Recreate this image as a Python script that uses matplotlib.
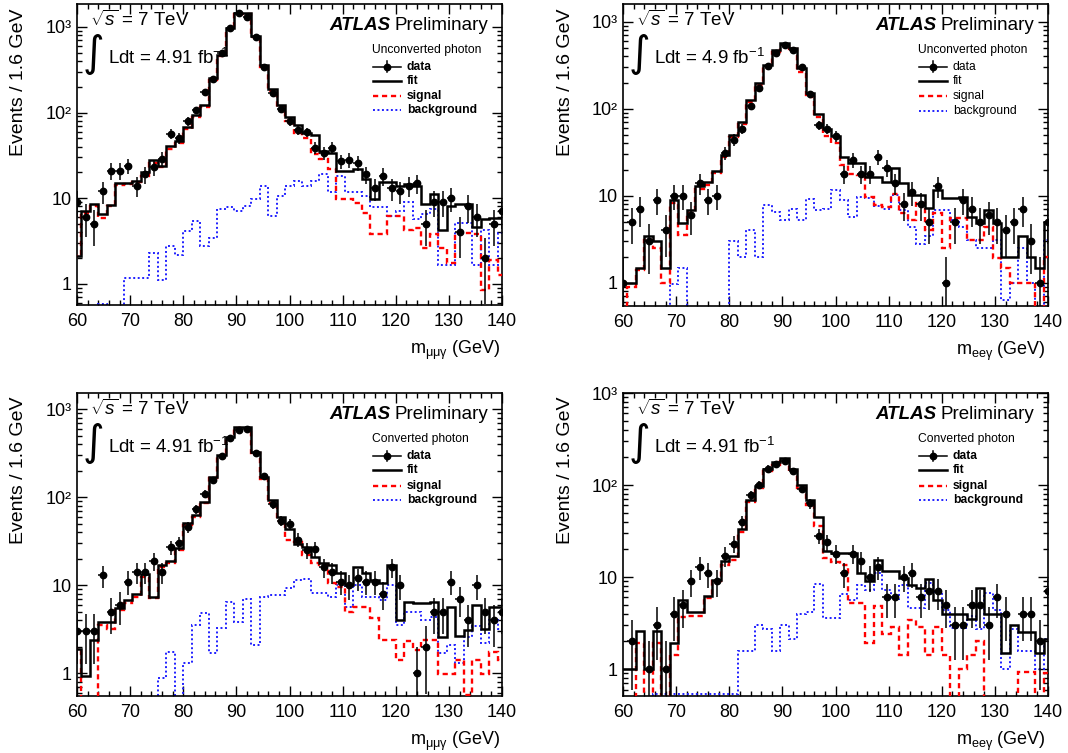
import numpy as np
import matplotlib
matplotlib.use("Agg")
import matplotlib.pyplot as plt
from matplotlib.ticker import FixedLocator, NullFormatter, LogLocator, MultipleLocator
from matplotlib.lines import Line2D

plt.rcParams['font.family'] = ['Liberation Sans', 'DejaVu Sans']
plt.rcParams['mathtext.fontset'] = 'custom'
plt.rcParams['mathtext.rm'] = 'Liberation Sans'
plt.rcParams['mathtext.it'] = 'Liberation Sans:italic'
plt.rcParams['mathtext.bf'] = 'Liberation Sans:bold'

# ---------------- binning / ticks ----------------
bin_lo, bin_w, n_bins = 59.2, 1.6, 51
edges = bin_lo + bin_w * np.arange(n_bins + 1)
centers = edges[:-1] + bin_w / 2
x_ticks = [60, 70, 80, 90, 100, 110, 120, 130, 140]
y_ticks = [1, 10, 100, 1000]
y_tick_labels = ['1', '10', '10\u00b2', '10\u00b3']

# ---------------- Z -> mu mu gamma, unconverted ----------------
data_mmg_unconv = [9, 6, 5, 12, 21, 21, 24, 14, 19, 23, 29, 56, 50, 79, 106, 175, 244, 494, 973, 1462,
                   1312, 756, 344, 170, 109, 79, 62, 59, 39, 34, 39, 27, 28, 26, 19, 13, 18, 13, 12, 14,
                   15, 5, 9, 9, 10, 4, 8, 6, 2, 5, 7]
fit_mmg_unconv = [2.1, 7.1, 8.5, 6.5, 8.3, 14.9, 14.9, 16, 20, 28, 24, 41, 47, 68, 93, 122, 251, 464, 973, 1462,
                  1435, 777, 360, 188, 124, 89, 71, 57, 54, 36, 34, 21, 21, 22, 16.7, 9.9, 15.6, 15.6, 14, 14.6,
                  14, 8.5, 11.1, 4.3, 8.1, 8.5, 8.5, 4.6, 5.7, 5.9, 5.9]
sig_mmg_unconv = [2.1, 6.8, 8.1, 5.9, 8.0, 14.2, 14.6, 15.3, 18.3, 26, 23, 38, 44, 64, 89, 117, 240, 452, 947, 1422,
                  1397, 755, 344, 178, 117, 79, 57, 50, 33, 29, 22, 9.9, 9.9, 8.7, 6.8, 3.8, 3.8, 6.2, 6.2, 4.3,
                  4.5, 2.6, 3.8, 2.6, 1.75, 3.9, 3.9, 3.8, 0.85, 1.9, 1.28]
bkg_mmg_unconv = [0.1, 0.1, 0.1, 0.58, 0.3, 0.3, 1.17, 1.17, 1.17, 2.3, 1.1, 2.8, 2.2, 4.1, 5.4, 2.75, 3.4, 7.4, 7.8, 7.1,
                  8.1, 9.7, 13.7, 6.2, 10.6, 14, 16, 14, 16, 19, 11.9, 18.3, 11.9, 11.9, 10.6, 7.8, 7.8, 6.2, 7.1, 9.1,
                  5.7, 6.5, 7.4, 1.67, 1.67, 5.2, 5.2, 1.67, 4.3, 1.67, 3.9]

# ---------------- Z -> e e gamma, unconverted ----------------
data_eeg_unconv = [1, 5, 7, 3, 9, 4, 10, 10, 6, 14, 9, 10, 31, 44, 59, 107, 171, 309, 440, 540,
                   472, 299, 147, 65, 59, 48, 18, 26, 18, 18, 28, 21, 14, 8, 11, 8, 5, 13, 1, 5,
                   9, 7, 5, 6, 5, 4, 5, 7, 3, 1, 5]
fit_eeg_unconv = [1.0, 1.0, 1.49, 3.4, 3.0, 1.46, 8.9, 4.9, 6.8, 12.9, 14.5, 19.4, 29.3, 50, 71, 126, 196, 318, 472, 563,
                  494, 291, 150, 88, 59, 48, 28, 24, 24, 16.5, 16.5, 14.5, 20.6, 14.1, 10.2, 10.2, 7.2, 11.6, 9.3, 9.3,
                  9.7, 5.7, 4.8, 6.8, 4.8, 1.96, 1.96, 3.4, 1.96, 1.46, 5.0]
sig_eeg_unconv = [0.4, 0.9, 1.4, 3.1, 2.5, 0.99, 8.2, 3.5, 6.3, 12.1, 13.2, 18.1, 28, 47, 67, 120, 187, 303, 451, 540,
                  480, 265, 137, 81, 48, 40, 22.5, 18, 17.3, 9.7, 7.8, 7.5, 10.6, 6.3, 5.25, 8.2, 4.0, 6.3, 2.5, 5.5,
                  5.5, 3.1, 3.1, 4.4, 1.9, 1.46, 0.99, 0.99, 0.99, 0.3, 2.0]
bkg_eeg_unconv = [0.1, 0.1, 0.1, 0.1, 0.1, 0.1, 0.97, 1.46, 0.1, 0.1, 0.1, 0.1, 0.1, 3.0, 1.96, 4.0, 2.0, 7.8, 6.5, 5.2,
                  7.1, 5.2, 9.1, 6.8, 7.1, 11.6, 8.9, 5.7, 9.7, 9.3, 7.6, 7.0, 10.2, 6.8, 4.4, 2.8, 3.4, 6.8, 6.8, 5.2,
                  4.4, 3.1, 2.5, 2.5, 3.1, 0.63, 0.98, 2.5, 0.98, 0.3, 3.1]

# ---------------- Z -> mu mu gamma, converted ----------------
data_mmg_conv = [3, 3, 3, 13, 5, 6, 11, 14, 14, 19, 14, 27, 30, 46, 73, 109, 157, 295, 468, 582,
                 593, 316, 175, 83, 54, 49, 33, 25, 26, 16, 14, 11, 10, 12, 11, 11, 8, 16, 10, 0,
                 1, 2, 5, 5, 11, 7, 4, 10, 5, 4, 5]
fit_mmg_conv = [1.9, 0.92, 2.4, 3.8, 3.8, 5.5, 6.7, 7.9, 13.3, 7.4, 17, 18.6, 26.3, 51, 63, 89, 169, 303, 481, 624,
                624, 330, 169, 93, 60, 43, 29.5, 27.5, 21, 17.8, 17, 13.9, 10.1, 16.3, 13.9, 11.5, 10.5, 17, 4.0, 6.5,
                6.2, 6.2, 6.5, 2.6, 5.7, 2.65, 3.1, 6.0, 3.2, 5.7, 5.7]
sig_mmg_conv = [1.9, 0.3, 0.3, 3.5, 3.2, 5.2, 6.2, 7.4, 12.5, 7.1, 16.3, 17.8, 25, 48, 60, 85, 164, 290, 468, 608,
                608, 316, 160, 85, 53, 33, 31, 22, 17.8, 17, 10.5, 9.5, 4.9, 5.7, 5.7, 4.2, 2.4, 2.4, 1.4, 2.35,
                1.84, 2.4, 2.4, 0.98, 0.98, 1.4, 0.57, 1.4, 0.98, 1.76, 1.4]
bkg_mmg_conv = [0.1, 0.1, 0.1, 0.1, 0.1, 0.1, 0.1, 0.1, 0.1, 0.1, 0.88, 1.76, 0.3, 1.3, 3.5, 4.8, 1.69, 3.3, 6.5, 3.8,
                6.9, 2.1, 7.4, 7.8, 7.8, 9.2, 11.5, 11.9, 8.1, 8.1, 7.4, 10.1, 5.7, 10.1, 7.4, 7.4, 6.8, 10.1, 3.5, 4.9,
                4.9, 4.0, 4.4, 1.69, 2.1, 1.3, 2.6, 3.4, 2.2, 4.0, 3.2]

# ---------------- Z -> e e gamma, converted ----------------
data_eeg_conv = [0, 2, 0, 1, 3, 1, 4, 5, 9, 13, 11, 9, 17, 23, 40, 77, 101, 151, 171, 184,
                 143, 91, 63, 28, 24, 18, 11, 18, 15, 10, 13, 6, 6, 10, 11, 6, 7, 7, 5, 3,
                 3, 5, 5, 3, 6, 4, 0, 4, 4, 2, 7]
fit_eeg_conv = [1.0, 1.0, 2.6, 1.0, 2.6, 0.3, 1.9, 5.7, 4.2, 4.2, 6.2, 9.4, 14.8, 16.8, 33, 68, 97, 149, 176, 197,
                149, 101, 69, 45, 19, 18.2, 18.2, 18.2, 11, 9, 15.4, 11.5, 11.5, 9.8, 8.3, 7.6, 9.5, 5.7, 4.0, 4.0,
                4.0, 3.5, 7.6, 4.0, 4.0, 1.5, 3.0, 2.5, 2.5, 1.5, 2.1]
sig_eeg_conv = [0.3, 0.3, 1.9, 0.3, 1.9, 0.3, 1.43, 3.7, 3.8, 3.8, 5.9, 9.0, 13.6, 15.4, 31, 65, 93, 141, 166, 181,
                141, 93, 61, 36, 16, 14.4, 13.6, 5.2, 5.2, 1.9, 4.8, 2.4, 2.9, 1.43, 3.4, 2.9, 1.43, 2.9, 1.43, 0.3,
                0.99, 1.43, 2.0, 0.3, 0.3, 0.3, 0.3, 0.94, 0.94, 0.3, 0.9]
bkg_eeg_conv = [0.1, 0.1, 0.1, 0.1, 0.53, 0.53, 0.53, 0.53, 0.53, 0.53, 0.53, 0.53, 0.53, 0.53, 1.56, 1.56, 3.0, 2.7, 1.56, 3.0,
                2.1, 4.0, 4.2, 8.5, 3.6, 3.6, 6.6, 5.6, 8.3, 7.3, 11.2, 7.3, 5.8, 8.3, 4.6, 4.6, 8.6, 6.8, 4.4, 2.8,
                2.8, 3.8, 2.7, 6.7, 4.4, 1.0, 2.7, 1.56, 1.56, 1.0, 2.1]

panels = [
    dict(data=data_mmg_unconv, fit=fit_mmg_unconv, sig=sig_mmg_unconv, bkg=bkg_mmg_unconv,
         xlabel=r'm$_{\mathrm{\mu\mu\gamma}}$ (GeV)', lumi='4.91', cat='Unconverted photon',
         ylim=(0.566, 1850), bold=True, box=(77, 4, 502, 305)),
    dict(data=data_eeg_unconv, fit=fit_eeg_unconv, sig=sig_eeg_unconv, bkg=bkg_eeg_unconv,
         xlabel=r'm$_{\mathrm{ee\gamma}}$ (GeV)', lumi='4.9', cat='Unconverted photon',
         ylim=(0.54, 1600), bold=False, box=(623, 4, 1048, 306)),
    dict(data=data_mmg_conv, fit=fit_mmg_conv, sig=sig_mmg_conv, bkg=bkg_mmg_conv,
         xlabel=r'm$_{\mathrm{\mu\mu\gamma}}$ (GeV)', lumi='4.91', cat='Converted photon',
         ylim=(0.55, 1530), bold=True, box=(77, 393, 502, 696)),
    dict(data=data_eeg_conv, fit=fit_eeg_conv, sig=sig_eeg_conv, bkg=bkg_eeg_conv,
         xlabel=r'm$_{\mathrm{ee\gamma}}$ (GeV)', lumi='4.91', cat='Converted photon',
         ylim=(0.51, 1000), bold=True, box=(623, 393, 1048, 696)),
]

W, H = 1068, 753
fig = plt.figure(figsize=(W / 100, H / 100), dpi=100)

RED = '#ff0000'
BLUE = '#1f1fff'

for p in panels:
    x0, y0, x1, y1 = p['box']
    ax = fig.add_axes([x0 / W, 1 - y1 / H, (x1 - x0) / W, (y1 - y0) / H])
    ax.set_yscale('log')
    ax.stairs(p['bkg'], edges, baseline=None, color=BLUE, lw=1.4, ls=(0, (1, 1.3)), zorder=2)
    ax.stairs(p['sig'], edges, baseline=None, color=RED, lw=1.7, ls=(0, (2.2, 1.6)), zorder=3)
    ax.stairs(p['fit'], edges, baseline=None, color='black', lw=1.8, zorder=4)
    d = np.asarray(p['data'], float)
    m = d > 0
    ax.errorbar(centers[m], d[m], yerr=np.sqrt(d[m]), xerr=bin_w / 2, fmt='o', color='black',
                ms=4.6, lw=1.1, capsize=0, zorder=5)
    ax.set_xlim(60, 140)
    ax.set_ylim(*p['ylim'])
    ax.set_xticks(x_ticks)
    ax.xaxis.set_minor_locator(MultipleLocator(2))
    ax.yaxis.set_major_locator(FixedLocator(y_ticks))
    ax.set_yticklabels(y_tick_labels)
    ax.yaxis.set_minor_locator(LogLocator(base=10, subs=np.arange(2, 10)))
    ax.yaxis.set_minor_formatter(NullFormatter())
    ax.tick_params(which='both', direction='in', top=True, right=True, labelsize=13, width=1)
    ax.tick_params(which='major', length=7)
    ax.tick_params(axis='x', which='major', pad=6)
    ax.tick_params(axis='y', which='major', pad=4)
    ax.tick_params(which='minor', length=3.5)
    for s in ax.spines.values():
        s.set_linewidth(1.2)

    # annotations
    ax.text(0.031, 0.948, r'$\sqrt{s}$ = 7 TeV', transform=ax.transAxes, fontsize=13.5,
            ha='left', va='center')
    ax.text(0.038, 0.835, '\u222b', transform=ax.transAxes, fontsize=30, ha='center', va='center',
            family='DejaVu Sans')
    ax.text(0.073, 0.822, 'Ldt = ' + p['lumi'] + r' fb$^{\mathrm{-1}}$', transform=ax.transAxes,
            fontsize=13.5, ha='left', va='center')
    ax.text(0.595, 0.928, 'ATLAS', transform=ax.transAxes, fontsize=13.5, ha='left', va='center',
            fontweight='bold', fontstyle='italic')
    ax.text(0.746, 0.928, 'Preliminary', transform=ax.transAxes, fontsize=13.5, ha='left', va='center')

    # legend
    fw = 'bold' if p['bold'] else 'normal'
    ax.text(0.694, 0.848, p['cat'], transform=ax.transAxes, fontsize=8.7, ha='left', va='center')
    rows = [0.792, 0.745, 0.694, 0.647]
    lx0, lx1, tx = 0.697, 0.762, 0.776
    tr = ax.transAxes
    ax.add_line(Line2D([lx0, lx1], [rows[0]] * 2, transform=tr, color='black', lw=1.1))
    ax.add_line(Line2D([(lx0 + lx1) / 2] * 2, [rows[0] - 0.018, rows[0] + 0.018], transform=tr,
                       color='black', lw=1.1))
    ax.add_line(Line2D([(lx0 + lx1) / 2], [rows[0]], transform=tr, color='black', marker='o', ms=4.6))
    ax.add_line(Line2D([lx0, lx1], [rows[1]] * 2, transform=tr, color='black', lw=1.8))
    ax.add_line(Line2D([lx0, lx1], [rows[2]] * 2, transform=tr, color=RED, lw=1.7, ls=(0, (2.2, 1.6))))
    ax.add_line(Line2D([lx0, lx1], [rows[3]] * 2, transform=tr, color=BLUE, lw=1.4, ls=(0, (1, 1.3))))
    for r, lab in zip(rows, ['data', 'fit', 'signal', 'background']):
        ax.text(tx, r, lab, transform=tr, fontsize=8.7, ha='left', va='center', fontweight=fw)

    # axis titles
    fig.text((x0 - 58) / W, 1 - (y0 + 4) / H, 'Events / 1.6 GeV', rotation=90, ha='center', va='top',
             fontsize=14)
    fig.text((x1 - 2) / W, 1 - (y1 + 45) / H, p['xlabel'], ha='right', va='center', fontsize=13)

fig.savefig('out.png', dpi=100)
